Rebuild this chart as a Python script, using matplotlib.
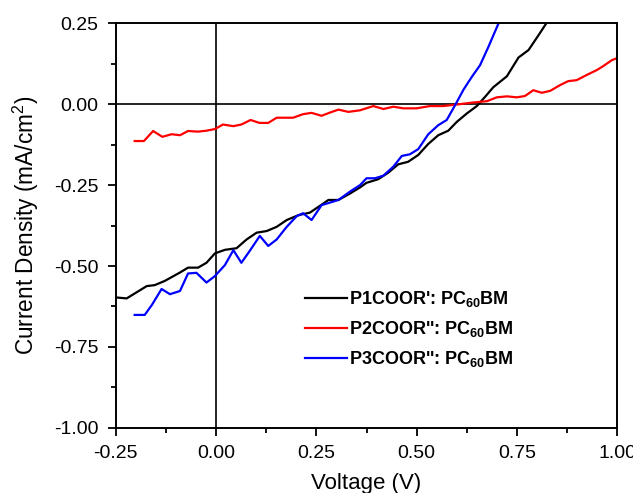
import matplotlib
matplotlib.use("Agg")
import matplotlib.pyplot as plt
from matplotlib.ticker import MultipleLocator, FormatStrFormatter

plt.rcParams["font.family"] = ["Liberation Sans", "DejaVu Sans"]
plt.rcParams["mathtext.fontset"] = "custom"
plt.rcParams["mathtext.rm"] = "Liberation Sans"
plt.rcParams["mathtext.bf"] = "Liberation Sans:bold"
plt.rcParams["mathtext.default"] = "regular"

# P1COOR': PC60BM (black)
v_p1 = [-0.25, -0.223, -0.173, -0.153, -0.128, -0.09, -0.07, -0.045, -0.024, -0.003,
        0.022, 0.051, 0.076, 0.101, 0.126, 0.151, 0.176, 0.205, 0.234, 0.259,
        0.28, 0.305, 0.334, 0.359, 0.375, 0.404, 0.429, 0.454, 0.479, 0.504,
        0.529, 0.554, 0.579, 0.60, 0.625, 0.65, 0.671, 0.691, 0.725, 0.754,
        0.779, 0.804, 0.823, 0.84]
j_p1 = [-0.597, -0.60, -0.562, -0.559, -0.546, -0.52, -0.505, -0.505, -0.49, -0.461,
        -0.45, -0.445, -0.418, -0.397, -0.392, -0.379, -0.358, -0.343, -0.335, -0.314,
        -0.296, -0.296, -0.276, -0.257, -0.243, -0.232, -0.212, -0.186, -0.178, -0.157,
        -0.123, -0.096, -0.082, -0.055, -0.029, -0.006, 0.023, 0.052, 0.086, 0.144,
        0.167, 0.213, 0.249, 0.28]

# P2COOR'': PC60BM (red)
v_p2 = [-0.203, -0.18, -0.157, -0.134, -0.111, -0.09, -0.07, -0.045, -0.024, -0.003,
        0.017, 0.043, 0.063, 0.086, 0.108, 0.13, 0.151, 0.192, 0.217, 0.238,
        0.263, 0.284, 0.305, 0.33, 0.359, 0.392, 0.417, 0.442, 0.467, 0.50,
        0.533, 0.566, 0.608, 0.641, 0.675, 0.70, 0.725, 0.75, 0.77, 0.791,
        0.812, 0.833, 0.858, 0.878, 0.899, 0.924, 0.949, 0.966, 0.987, 1.0]
j_p2 = [-0.114, -0.114, -0.083, -0.101, -0.093, -0.096, -0.083, -0.085, -0.082, -0.077,
        -0.063, -0.068, -0.063, -0.049, -0.058, -0.058, -0.042, -0.042, -0.031, -0.027,
        -0.036, -0.026, -0.017, -0.024, -0.019, -0.006, -0.015, -0.008, -0.013, -0.013,
        -0.006, -0.006, 0.0, 0.005, 0.009, 0.021, 0.024, 0.021, 0.025, 0.043,
        0.035, 0.041, 0.059, 0.071, 0.074, 0.09, 0.105, 0.118, 0.136, 0.142]

# P3COOR'': PC60BM (blue)
v_p3 = [-0.203, -0.178, -0.16, -0.136, -0.115, -0.09, -0.07, -0.049, -0.024, -0.003,
        0.022, 0.043, 0.063, 0.084, 0.109, 0.13, 0.151, 0.176, 0.201, 0.217,
        0.238, 0.263, 0.305, 0.334, 0.359, 0.375, 0.396, 0.417, 0.442, 0.463,
        0.483, 0.504, 0.529, 0.554, 0.575, 0.596, 0.617, 0.638, 0.658, 0.679,
        0.704, 0.72]
j_p3 = [-0.651, -0.651, -0.62, -0.571, -0.587, -0.577, -0.523, -0.521, -0.551, -0.531,
        -0.497, -0.451, -0.49, -0.453, -0.407, -0.438, -0.418, -0.379, -0.346, -0.337,
        -0.358, -0.312, -0.296, -0.27, -0.25, -0.229, -0.229, -0.221, -0.193, -0.16,
        -0.155, -0.139, -0.093, -0.065, -0.049, -0.003, 0.045, 0.085, 0.12, 0.177,
        0.249, 0.29]

labels = [r"P1COOR': PC$_\mathbf{60}$BM",
          r"P2COOR'': PC$_\mathbf{60}$BM",
          r"P3COOR'': PC$_\mathbf{60}$BM"]

fig = plt.figure(figsize=(6.33, 4.93), dpi=100)
ax = fig.add_axes([0.183, 0.132, 0.792, 0.821])

ax.axhline(0, color="black", lw=1.2, zorder=1)
ax.axvline(0, color="black", lw=1.2, zorder=1)

ax.plot(v_p1, j_p1, color="black", lw=1.6, label=labels[0])
ax.plot(v_p2, j_p2, color="#ff0000", lw=1.6, label=labels[1])
ax.plot(v_p3, j_p3, color="#0000ff", lw=1.6, label=labels[2])

ax.set_xlim(-0.25, 1.0)
ax.set_ylim(-1.0, 0.25)
ax.xaxis.set_major_locator(MultipleLocator(0.25))
ax.xaxis.set_minor_locator(MultipleLocator(0.125))
ax.yaxis.set_major_locator(MultipleLocator(0.25))
ax.yaxis.set_minor_locator(MultipleLocator(0.125))
ax.xaxis.set_major_formatter(FormatStrFormatter("%.2f"))
ax.yaxis.set_major_formatter(FormatStrFormatter("%.2f"))
ax.tick_params(which="both", direction="out", width=1.3, labelsize=14,
               top=False, right=False, pad=6.5)
ax.tick_params(which="major", length=6)
ax.tick_params(which="minor", length=3.5)
for s in ax.spines.values():
    s.set_linewidth(1.4)

ax.set_xlabel("Voltage (V)", fontsize=16, labelpad=8)
ax.set_ylabel("Current Density (mA/cm$^2$)", fontsize=16.3, labelpad=9)

ax.legend(loc="upper left", bbox_to_anchor=(0.363, 0.36), frameon=False,
          prop={"weight": "bold", "size": 13}, handlelength=2.3,
          handletextpad=0.15, labelspacing=0.55, borderaxespad=0)

fig.savefig("out.png", dpi=100, facecolor="white")
